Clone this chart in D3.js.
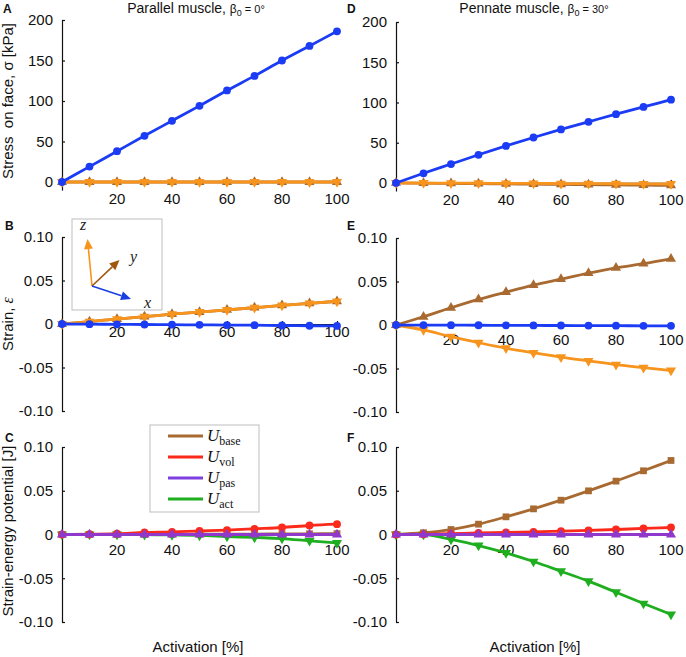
<!DOCTYPE html>
<html><head><meta charset="utf-8">
<script src="https://cdn.jsdelivr.net/npm/d3@7/dist/d3.min.js"></script>
<style>
body{margin:0;background:#fff;}
svg{display:block;font-family:"Liberation Sans",Arial,sans-serif;}
</style></head>
<body>
<svg id="chart" width="686" height="657"></svg>
<script>
// ---- data ----
const activation = [0,10,20,30,40,50,60,70,80,90,100];
const xTicks = [20,40,60,80,100];
const stressTicks = [0,50,100,150,200];
const strainTicks = [-0.10,-0.05,0,0.05,0.10];

// Stress on face [kPa]
const stressParX = [0,19,38,57,75.5,94,113,131,150,168,186];
const stressParY = [0,0,0,0,0,0,0,0,0,0,0];
const stressParZ = [0,0,0,0,0,0,0,0,0,0,0];
const stressPenX = [0,12,23.5,35,46,56.5,66.5,76,85.5,94.5,103.5];
const stressPenY = [0,-0.3,-0.6,-0.9,-1.2,-1.5,-1.8,-2.1,-2.4,-2.7,-3];
const stressPenZ = [0,-0.1,-0.2,-0.4,-0.5,-0.6,-0.8,-0.9,-1.0,-1.1,-1.3];

// Strain
const strainParX = [0,-0.0002,-0.0004,-0.0006,-0.0008,-0.001,-0.0012,-0.0014,-0.0017,-0.002,-0.0022];
const strainParY = [0,0.0028,0.0057,0.0084,0.0113,0.0138,0.0162,0.0188,0.0214,0.0238,0.026];
const strainParZ = [0,0.0028,0.0057,0.0084,0.0113,0.0138,0.0162,0.0188,0.0214,0.0238,0.026];
const strainPenX = [0,-0.0001,-0.0002,-0.0003,-0.0004,-0.0005,-0.0006,-0.0007,-0.0008,-0.0009,-0.001];
const strainPenY = [0,0.0095,0.0198,0.0294,0.0378,0.0458,0.0527,0.0596,0.0657,0.0705,0.076];
const strainPenZ = [0,-0.0057,-0.0134,-0.0203,-0.0267,-0.032,-0.037,-0.0413,-0.0455,-0.049,-0.0523];

// Strain-energy potential [J]
const energyParBase = [0,0,0,0.0001,0.0002,0.0003,0.0004,0.0005,0.0007,0.0008,0.001];
const energyParVol  = [0,0.0003,0.001,0.0023,0.003,0.004,0.005,0.0065,0.008,0.0103,0.0118];
const energyParPas  = [0,0,0,0,0,0,0,0,0,0,0];
const energyParAct  = [0,0,0,-0.0002,-0.0005,-0.0011,-0.0023,-0.0034,-0.0046,-0.0072,-0.0095];
const energyPenBase = [0,0.002,0.0057,0.0118,0.0202,0.0293,0.0392,0.0499,0.061,0.0728,0.0846];
const energyPenVol  = [0,0.0003,0.001,0.0019,0.0023,0.003,0.0038,0.0046,0.0057,0.0069,0.008];
const energyPenPas  = [0,0,0,0,0,0,0,0,0,0,0];
const energyPenAct  = [0,0,-0.0057,-0.0126,-0.021,-0.0309,-0.042,-0.0533,-0.066,-0.0789,-0.0914];

const legendLabels = ["base","vol","pas","act"];

// ---- styles ----
const C = {blue:"#1b3cf4", orange:"#f7941d", brown:"#a86a30", red:"#fb2a1a", purple:"#9138cc", green:"#1fae1f"};

const svg = d3.select("#chart");

const fmtStrain = d => d===0 ? "0" : d3.format(".2f")(d).replace("\u2212","-");

const panels = [
 {letter:"A", left:62, yDom:[-10,200], yRng:[190.1,20], ticks:stressTicks, fmt:d=>d, xLabY:204,
  series:[[stressParY,C.brown,"up"],[stressParZ,C.orange,"down"],[stressParX,C.blue,"circle"]]},
 {letter:"D", left:396, yDom:[-10,200], yRng:[191,22], ticks:stressTicks, fmt:d=>d, xLabY:205,
  series:[[stressPenY,C.brown,"up"],[stressPenZ,C.orange,"down"],[stressPenX,C.blue,"circle"]]},
 {letter:"B", left:62, yDom:[-0.1,0.1], yRng:[411,237], ticks:strainTicks, fmt:fmtStrain, xLabY:337,
  series:[[strainParY,C.brown,"up"],[strainParZ,C.orange,"down"],[strainParX,C.blue,"circle"]]},
 {letter:"E", left:396, yDom:[-0.1,0.1], yRng:[412,238], ticks:strainTicks, fmt:fmtStrain, xLabY:345,
  series:[[strainPenY,C.brown,"up"],[strainPenZ,C.orange,"down"],[strainPenX,C.blue,"circle"]]},
 {letter:"C", left:62, yDom:[-0.1,0.1], yRng:[622,447], ticks:strainTicks, fmt:fmtStrain, xLabY:555,
  series:[[energyParBase,C.brown,"square"],[energyParAct,C.green,"down"],[energyParVol,C.red,"circle"],[energyParPas,C.purple,"up"]]},
 {letter:"F", left:396, yDom:[-0.1,0.1], yRng:[622,447], ticks:strainTicks, fmt:fmtStrain, xLabY:555,
  series:[[energyPenBase,C.brown,"square"],[energyPenAct,C.green,"down"],[energyPenVol,C.red,"circle"],[energyPenPas,C.purple,"up"]]},
];

const sym = {
  up: d3.symbol().type(d3.symbolTriangle).size(44)(),
  down: d3.symbol().type(d3.symbolTriangle).size(44)(),
  square: d3.symbol().type(d3.symbolSquare).size(46)()
};

panels.forEach(p=>{
  const x = d3.scaleLinear().domain([0,100]).range([p.left,p.left+275]);
  const y = d3.scaleLinear().domain(p.yDom).range(p.yRng);
  const g = svg.append("g");
  // y axis
  const ya = g.append("g").attr("transform",`translate(${p.left},0)`)
    .call(d3.axisLeft(y).tickValues(p.ticks).tickFormat(p.fmt).tickSizeInner(-3).tickSizeOuter(0).tickPadding(9));
  ya.selectAll("text").attr("font-size",15).attr("fill","#111").attr("font-family","Liberation Sans, Arial, sans-serif");
  ya.selectAll("line,path").attr("stroke","#111").attr("stroke-width",1.2);
  // x axis at zero
  const xa = g.append("g").attr("transform",`translate(0,${y(0)})`)
    .call(d3.axisBottom(x).tickValues(xTicks).tickFormat("").tickSizeInner(-3).tickSizeOuter(0));
  xa.selectAll("line,path").attr("stroke","#111").attr("stroke-width",1.2);
  g.selectAll(".xl").data(xTicks).enter().append("text")
    .attr("x",d=>x(d)).attr("y",p.xLabY).attr("text-anchor","middle")
    .attr("font-size",15).attr("fill","#111").text(d=>d);
  // series
  p.series.forEach(([vals,col,mk])=>{
    const pts = activation.map((a,i)=>[a,vals[i]]);
    g.append("path").datum(pts)
      .attr("d",d3.line().x(d=>x(d[0])).y(d=>y(d[1])).curve(d3.curveMonotoneX))
      .attr("fill","none").attr("stroke",col).attr("stroke-width",2.8);
    const m = g.selectAll(null).data(pts).enter();
    if(mk==="circle"){
      m.append("circle").attr("cx",d=>x(d[0])).attr("cy",d=>y(d[1])).attr("r",3.9).attr("fill",col);
    } else {
      m.append("path").attr("d",sym[mk])
        .attr("transform",d=>`translate(${x(d[0])},${y(d[1])})${mk==="down"?" rotate(180)":""}`)
        .attr("fill",col);
    }
  });
});

// panel letters
const letters = [["A",3,13],["D",347,13],["B",5,230],["E",347,230],["C",5,442],["F",347,442]];
svg.selectAll(".pl").data(letters).enter().append("text")
  .attr("x",d=>d[1]).attr("y",d=>d[2]).attr("font-size",12).attr("font-weight","bold").attr("fill","#111").text(d=>d[0]);

// titles
function title(cx, main, val){
  const t = svg.append("text").attr("x",cx).attr("y",13).attr("text-anchor","middle").attr("fill","#111").attr("font-size",14);
  t.append("tspan").text(main);
  t.append("tspan").attr("font-size",12).text("\u03b2");
  t.append("tspan").attr("font-size",9).attr("dy",3).text("0");
  t.append("tspan").attr("font-size",11).attr("dy",-3).text(" = "+val);
}
title(196,"Parallel muscle, ","0°");
title(534,"Pennate muscle, ","30°");

// y labels
svg.append("text").attr("transform","translate(13,101) rotate(-90)").attr("text-anchor","middle")
  .attr("font-size",15).attr("fill","#111").text("Stress\u00a0 on face, \u03c3 [kPa]");
const sl = svg.append("text").attr("transform","translate(13,324) rotate(-90)").attr("text-anchor","middle")
  .attr("font-size",15).attr("fill","#111");
sl.append("tspan").text("Strain, ");
sl.append("tspan").attr("font-family","Liberation Serif, serif").attr("font-style","italic").attr("font-size",16).text("\u03b5");
svg.append("text").attr("transform","translate(13,531) rotate(-90)").attr("text-anchor","middle")
  .attr("font-size",15).attr("fill","#111").text("Strain-energy potential [J]");

// x labels
[198,535].forEach(cx=>svg.append("text").attr("x",cx).attr("y",652).attr("text-anchor","middle")
  .attr("font-size",15).attr("fill","#111").text("Activation [%]"));

// inset axes in B
const ins = svg.append("g");
ins.append("rect").attr("x",72).attr("y",219).attr("width",90).attr("height",91).attr("fill","#fff").attr("stroke","#c8c8c8").attr("stroke-width",1.2);
const o = [92,286];
function arrow(tip,col){
  const dx=tip[0]-o[0], dy=tip[1]-o[1], L=Math.hypot(dx,dy), ux=dx/L, uy=dy/L;
  const hl=10, hw=4.5;
  const bx=tip[0]-ux*hl, by=tip[1]-uy*hl;
  ins.append("line").attr("x1",o[0]).attr("y1",o[1]).attr("x2",bx).attr("y2",by).attr("stroke",col).attr("stroke-width",1.6);
  ins.append("path").attr("d",`M${tip[0]},${tip[1]}L${bx-uy*hw},${by+ux*hw}L${bx+uy*hw},${by-ux*hw}Z`).attr("fill",col);
}
arrow([87.5,239],C.orange);
arrow([119.5,260],"#a0580f");
arrow([131,299],"#1a3fe0");
[["z",80,230],["y",130,262],["x",144,308]].forEach(d=>ins.append("text").attr("x",d[1]).attr("y",d[2])
  .attr("font-family","Liberation Serif, serif").attr("font-style","italic").attr("font-size",16).attr("fill","#222").text(d[0]));

// legend in C
const lg = svg.append("g");
lg.append("rect").attr("x",150).attr("y",425).attr("width",109).attr("height",87).attr("fill","#fff").attr("stroke","#c8c8c8").attr("stroke-width",1.2);
const lgCols = [C.brown,C.red,"#7f3fe0",C.green];
legendLabels.forEach((lab,i)=>{
  const yy = 436 + i*21;
  lg.append("line").attr("x1",168).attr("x2",203).attr("y1",yy).attr("y2",yy).attr("stroke",lgCols[i]).attr("stroke-width",3);
  const t = lg.append("text").attr("x",207).attr("y",yy+5).attr("font-family","Liberation Serif, serif").attr("fill","#111");
  t.append("tspan").attr("font-style","italic").attr("font-size",17).text("U");
  t.append("tspan").attr("font-size",12).attr("dy",4).text(lab);
});
</script>
</body></html>
